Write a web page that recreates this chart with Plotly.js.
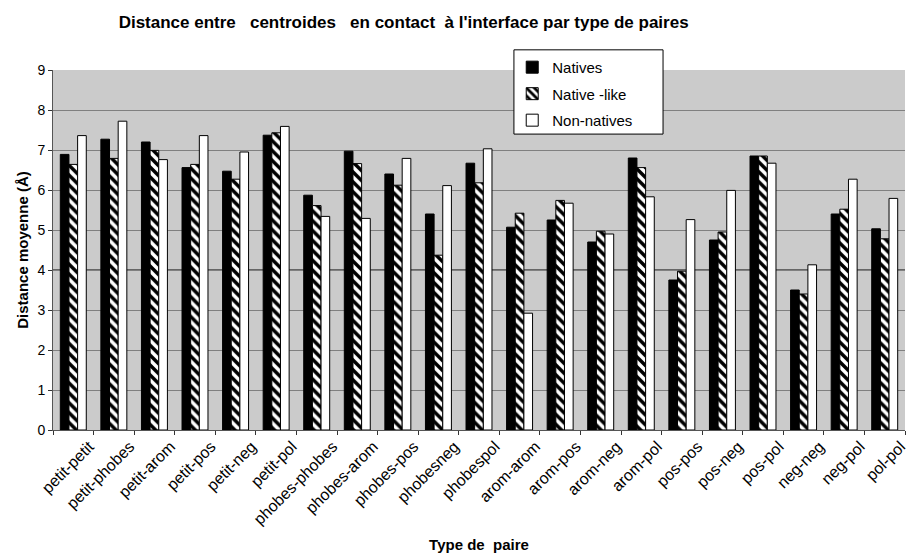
<!DOCTYPE html>
<html>
<head>
<meta charset="utf-8">
<script src="https://cdn.plot.ly/plotly-3.0.1.min.js"></script>
<style>html,body{margin:0;padding:0;background:#fff;}#chart{width:907px;height:558px;}</style>
</head>
<body>
<div id="chart"></div>
<script>
const categories = ["petit-petit","petit-phobes","petit-arom","petit-pos","petit-neg","petit-pol","phobes-phobes","phobes-arom","phobes-pos","phobesneg","phobespol","arom-arom","arom-pos","arom-neg","arom-pol","pos-pos","pos-neg","pos-pol","neg-neg","neg-pol","pol-pol"];
const natives     = [6.89,7.27,7.20,6.56,6.47,7.37,5.87,6.97,6.40,5.40,6.67,5.07,5.25,4.70,6.80,3.75,4.75,6.85,3.50,5.40,5.03];
const nativeLike  = [6.64,6.79,6.99,6.64,6.27,7.43,5.61,6.66,6.12,4.37,6.18,5.42,5.74,4.97,6.56,3.97,4.95,6.85,3.40,5.52,4.78];
const nonNatives  = [7.36,7.72,6.76,7.36,6.95,7.59,5.34,5.29,6.79,6.11,7.03,2.92,5.67,4.90,5.83,5.26,5.99,6.67,4.13,6.27,5.79];
const seriesNames = ["Natives","Native -like","Non-natives"];
const yTicks = [0,1,2,3,4,5,6,7,8,9];

const F = "Liberation Sans, Arial, sans-serif";
const traces = [
  {type:"bar", name:seriesNames[0], x:categories, y:natives, legendgroup:"a",
   marker:{color:"#000000", line:{color:"#000000", width:1}}},
  {type:"bar", name:seriesNames[1], x:categories, y:nativeLike, legendgroup:"b",
   marker:{color:"#ffffff", line:{color:"#000000", width:1},
     pattern:{shape:"\\", fgcolor:"#000000", bgcolor:"#ffffff", size:7, solidity:0.5}}},
  {type:"bar", name:seriesNames[2], x:categories, y:nonNatives, legendgroup:"c",
   marker:{color:"#ffffff", line:{color:"#000000", width:1}}}
];
const layout = {
  width:907, height:558,
  margin:{l:53, r:2, t:70, b:128},
  paper_bgcolor:"#ffffff", plot_bgcolor:"#cbcbcb",
  font:{family:F, size:14, color:"#000"},
  barmode:"group", bargap:0.36, bargroupgap:0,
  title:{text:"Distance entre\u00a0\u00a0 centroides\u00a0\u00a0 en contact\u00a0 à l'interface par type de paires",
    font:{family:F, size:17, color:"#000", weight:"bold"}, xref:"container", x:0.445, xanchor:"center", y:0.96, yanchor:"middle"},
  xaxis:{type:"category", tickangle:-45, tickson:"boundaries", ticks:"outside", ticklen:4, tickcolor:"#333",
    showline:true, linecolor:"#555", linewidth:1, showgrid:false, tickfont:{family:F, size:16, color:"#000"},
    ticklabelshift:16,
    title:{text:"Type de\u00a0 paire", font:{family:F, size:15, color:"#000", weight:"bold"}, standoff:12}},
  yaxis:{range:[0,9], tickvals:yTicks, ticks:"outside", ticklen:4, tickcolor:"#333", showline:true, linecolor:"#555",
    showgrid:true, gridcolor:"#808080", gridwidth:1, zeroline:false, tickfont:{family:F, size:14, color:"#000"},
    title:{text:"Distance moyenne (Å)", font:{family:F, size:15, color:"#000", weight:"bold"}, standoff:5}},
  shapes:[
    {type:"line", xref:"paper", x0:0, x1:1, yref:"y", y0:4, y1:4, line:{color:"#000", width:1}, layer:"below"},
    {type:"rect", xref:"paper", yref:"paper", x0:0.541, x1:0.716, y0:0.822, y1:1.056,
     fillcolor:"#ffffff", line:{color:"#000", width:1}, layer:"above"}
  ],
  legend:{x:0.539, y:1.053, xanchor:"left", yanchor:"top", bgcolor:"rgba(0,0,0,0)", borderwidth:0,
    font:{family:F, size:15, color:"#000"}, tracegroupgap:4, traceorder:"grouped", itemwidth:30},
  showlegend:true
};
Plotly.newPlot("chart", traces, layout, {displayModeBar:false, staticPlot:true});
</script>
</body>
</html>
